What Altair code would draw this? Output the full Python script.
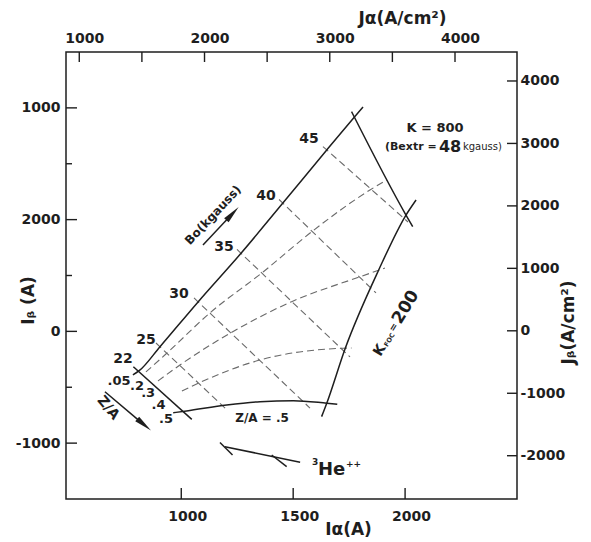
import altair as alt
import pandas as pd

FONT = "DejaVu Sans"
INK = "#1e1e1e"
DASH_INK = "#6a6a6a"

# ---------------- axis values ----------------
ia_ticks = [1000, 1500, 2000]
ia_labels = ["1000", "1500", "2000"]
ja_ticks = [1000, 1500, 2000, 2500, 3000, 3500, 4000]
ja_label_values = [1000, 2000, 3000, 4000]
ja_labels = ["1000", "2000", "3000", "4000"]
ib_major = [2000, 1000, 0, -1000]
ib_labels = ["1000", "2000", "0", "-1000"]   # as printed on the original
ib_minor = [1500, 500, -500]
jb_ticks = [4000, 3000, 2000, 1000, 0, -1000, -2000]
jb_labels = ["4000", "3000", "2000", "1000", "0", "-1000", "-2000"]

ia_domain = [485, 2500]
ib_domain = [-1500, 2500]
ja_domain = [894, 4495]
jb_domain = [-2693, 4464]

# ---------------- solid curves (Ia, Ib) ----------------
b0_line_ia = [784, 812, 905, 1076, 1267, 1453, 1650, 1769, 1812]
b0_line_ib = [-390, -352, -137, 266, 699, 1146, 1623, 1907, 2008]
k800_ia = [1761, 2004, 2034]
k800_ib = [1966, 1041, 937]
kfoc_ia = [1627, 1650, 1732, 1882, 2004, 2049]
kfoc_ib = [-763, -643, -155, 549, 1041, 1176]
za22_ia = [786, 1047]
za22_ib = [-316, -787]
za5_ia = [964, 1024, 1203, 1352, 1501, 1650, 1697]
za5_ib = [-728, -712, -659, -629, -620, -643, -652]
he3_ia = [1195, 1531]
he3_ib = [-1032, -1171]
he3_tick1_ia = [1173, 1229]
he3_tick1_ib = [-994, -1106]
he3_tick2_ia = [1404, 1471]
he3_tick2_ib = [-1106, -1211]
b0_arrow_ia = [1097, 1225]
b0_arrow_ib = [773, 1045]
za_arrow_ia = [659, 830]
za_arrow_ib = [-540, -830]

# ---------------- dashed curves ----------------
za2_ia = [842, 935, 1128, 1367, 1583, 1843, 1918]
za2_ib = [-363, -196, 165, 534, 892, 1265, 1355]
za3_ia = [896, 994, 1218, 1493, 1799, 1910]
za3_ib = [-444, -301, -17, 266, 489, 567]
za4_ia = [1003, 1076, 1352, 1724, 1761]
za4_ib = [-533, -464, -256, -151, -149]
b25_ia = [887, 1200]
b25_ib = [-104, -695]
b30_ia = [1057, 1575]
b30_ib = [299, -686]
b35_ia = [1249, 1754]
b35_ib = [733, -229]
b40_ia = [1437, 1870]
b40_ib = [1180, 344]
b45_ia = [1633, 2013]
b45_ib = [1654, 979]

# ---------------- labels ----------------
b0_text = ["45", "40", "35", "30", "25", "22"]
b0_text_ia = [1571, 1379, 1191, 990, 842, 740]
b0_text_ib = [1722, 1211, 755, 335, -77, -247]
za_text = [".05", ".2", ".3", ".4", ".5"]
za_text_ia = [722, 802, 852, 898, 932]
za_text_ib = [-444, -489, -555, -655, -784]

arrow_head_ia = [1229, 834]
arrow_head_ib = [1053, -836]
arrow_head_angle = [43, 130]


def build(series):
    rows = []
    for name, (xs, ys) in series.items():
        for k, (a, b) in enumerate(zip(xs, ys)):
            rows.append({"series": name, "k": k, "ia": a, "ib": b})
    return pd.DataFrame(rows)


solid_df = build({
    "b0": (b0_line_ia, b0_line_ib), "k800": (k800_ia, k800_ib),
    "kfoc": (kfoc_ia, kfoc_ib), "za22": (za22_ia, za22_ib),
    "za5": (za5_ia, za5_ib), "he3": (he3_ia, he3_ib),
    "he3t1": (he3_tick1_ia, he3_tick1_ib), "he3t2": (he3_tick2_ia, he3_tick2_ib),
    "b0arrow": (b0_arrow_ia, b0_arrow_ib), "zaarrow": (za_arrow_ia, za_arrow_ib),
})
dashed_df = build({
    "za2": (za2_ia, za2_ib), "za3": (za3_ia, za3_ib), "za4": (za4_ia, za4_ib),
    "b25": (b25_ia, b25_ib), "b30": (b30_ia, b30_ib), "b35": (b35_ia, b35_ib),
    "b40": (b40_ia, b40_ib), "b45": (b45_ia, b45_ib),
})


def label_expr(values, labels):
    expr = "''"
    for v, l in reversed(list(zip(values, labels))):
        expr = f"datum.value == {v} ? '{l}' : ({expr})"
    return expr


xenc = alt.X("ia:Q", scale=alt.Scale(domain=ia_domain, nice=False, zero=False),
             axis=alt.Axis(values=ia_ticks, labelExpr=label_expr(ia_ticks, ia_labels),
                           title="Iα(A)", titleX=282, titleY=30, titleBaseline="middle",
                           titleAlign="center", labelPadding=10, labelOffset=6))
yenc = alt.Y("ib:Q", scale=alt.Scale(domain=ib_domain, nice=False, zero=False),
             axis=alt.Axis(values=ib_major, labelExpr=label_expr(ib_major, ib_labels),
                           title="Iᵦ (A)", titleX=-38, titleY=248, titleAngle=270,
                           titleBaseline="middle", titleAlign="center", labelPadding=6))

dashed = alt.Chart(dashed_df).mark_line(color=DASH_INK, strokeWidth=1.1, strokeDash=[7, 4],
                                        interpolate="monotone").encode(
    x=xenc, y=yenc, detail="series:N")
solid = alt.Chart(solid_df).mark_line(color=INK, strokeWidth=1.5,
                                      interpolate="monotone").encode(
    x=xenc, y=yenc, detail="series:N")

heads = alt.Chart(pd.DataFrame({"ia": arrow_head_ia, "ib": arrow_head_ib,
                                "ang": arrow_head_angle})).mark_point(
    shape="M0,-1L0.34,1L-0.34,1Z", filled=True, size=324, color=INK, opacity=1,
    strokeWidth=0).encode(
    x=xenc, y=yenc, angle=alt.Angle("ang:Q", scale=None))

bottom_ticks = alt.Chart(pd.DataFrame({"ia": ia_ticks})).mark_rule(
    color=INK, strokeWidth=1.4).encode(x=xenc, y=alt.value(447), y2=alt.value(436))
left_major = alt.Chart(pd.DataFrame({"ib": ib_major})).mark_rule(
    color=INK, strokeWidth=1.4).encode(y=yenc, x=alt.value(0), x2=alt.value(11))
left_minor = alt.Chart(pd.DataFrame({"ib": ib_minor})).mark_rule(
    color=INK, strokeWidth=1.4).encode(y=yenc, x=alt.value(0), x2=alt.value(6))

b0_labels = alt.Chart(pd.DataFrame({"ia": b0_text_ia, "ib": b0_text_ib, "t": b0_text})).mark_text(
    font=FONT, fontWeight="bold", fontSize=14, color=INK).encode(x=xenc, y=yenc, text="t:N")
za_labels = alt.Chart(pd.DataFrame({"ia": za_text_ia, "ib": za_text_ib, "t": za_text})).mark_text(
    font=FONT, fontWeight="bold", fontSize=13, color=INK).encode(x=xenc, y=yenc, text="t:N")


def note(ia, ib, text, size, dx=0, dy=0, angle=0, weight="bold", align="center",
         baseline="middle"):
    return alt.Chart(pd.DataFrame({"ia": [ia], "ib": [ib], "t": [text]})).mark_text(
        font=FONT, fontWeight=weight, fontSize=size, dx=dx, dy=dy, angle=angle,
        align=align, baseline=baseline, color=INK).encode(x=xenc, y=yenc, text="t:N")


notes = [
    note(2134, 1820, "K = 800", 13),
    note(1910, 1650, "(Bextr =", 11, align="left"),
    note(1910, 1650, "48", 16, dx=54, align="left"),
    note(1910, 1650, "kgauss)", 10, dx=78, align="left", weight="normal"),
    note(1361, -775, "Z/A = .5", 12),
    note(1955, 57, "K", 14, dx=-35, angle=301, align="left"),
    note(1955, 57, "FOC", 6.5, dx=-23, dy=3, angle=301, align="left"),
    note(1955, 57, "=", 10, dx=-7, angle=301, align="left"),
    note(1955, 57, "200", 17, dx=3, angle=301, align="left"),
    note(1142, 1041, "Bo(kgauss)", 12, angle=313),
    note(673, -685, "Z/A", 14, angle=50),
    note(1584, -1285, "3", 9, dy=-10, align="left", baseline="alphabetic"),
    note(1584, -1285, "He", 18, dx=6, align="left", baseline="alphabetic"),
    note(1584, -1285, "++", 9, dx=34, dy=-8, align="left", baseline="alphabetic"),
]

main = alt.layer(dashed, solid, heads, bottom_ticks, left_major, left_minor,
                 b0_labels, za_labels, *notes)

top = alt.Chart(pd.DataFrame({"ja": ja_ticks})).mark_rule(color=INK, strokeWidth=1.4).encode(
    x=alt.X("ja:Q", scale=alt.Scale(domain=ja_domain, nice=False, zero=False),
            axis=alt.Axis(orient="top", values=ja_label_values,
                          labelExpr=label_expr(ja_label_values, ja_labels),
                          title="Jα(A/cm²)", titleX=336, titleY=-34, titleBaseline="middle",
                          titleAlign="center", labelPadding=7, labelOffset=5)),
    y=alt.value(0), y2=alt.value(10))

right = alt.Chart(pd.DataFrame({"jb": jb_ticks})).mark_rule(color=INK, strokeWidth=1.4).encode(
    y=alt.Y("jb:Q", scale=alt.Scale(domain=jb_domain, nice=False, zero=False),
            axis=alt.Axis(orient="right", values=jb_ticks,
                          labelExpr=label_expr(jb_ticks, jb_labels),
                          title="Jᵦ(A/cm²)", titleX=51, titleY=270, titleAngle=270,
                          titleBaseline="middle", titleAlign="center", labelPadding=3)),
    x=alt.value(451), x2=alt.value(441))

chart = alt.layer(main, top, right).resolve_scale(
    x="independent", y="independent"
).properties(
    width=451, height=447,
    autosize=alt.AutoSizeParams(type="none"),
    padding={"left": 66, "top": 52, "right": 74, "bottom": 43},
    background="white",
).configure_view(
    stroke=INK, strokeWidth=1.5
).configure_axis(
    grid=False, domain=False, ticks=False, tickSize=0,
    labelFont=FONT, labelFontWeight="bold", labelFontSize=14, labelColor=INK,
    titleFont=FONT, titleFontWeight="bold", titleFontSize=17, titleColor=INK,
)

chart.save("out.html", embed_options={"renderer": "svg", "actions": False})
